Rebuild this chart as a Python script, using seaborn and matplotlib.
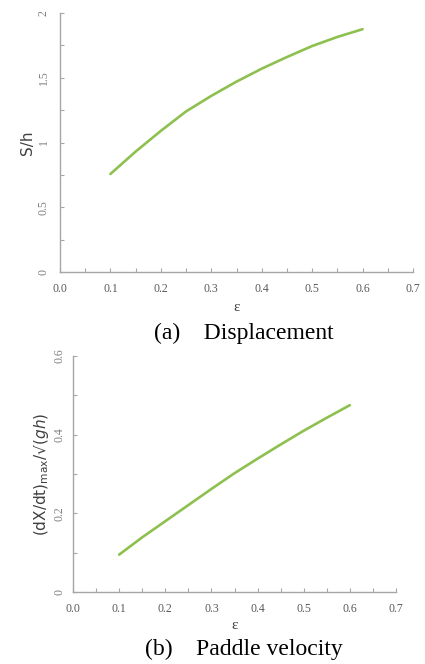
import numpy as np
import pandas as pd
import matplotlib
matplotlib.use("Agg")
import matplotlib.pyplot as plt
import seaborn as sns
from matplotlib.ticker import MultipleLocator

sns.set_theme(style="white")
plt.rcParams['font.family'] = ['DejaVu Sans']

eps = [0.10, 0.15, 0.20, 0.25, 0.30, 0.35, 0.40, 0.45, 0.50, 0.55, 0.60]
disp = [0.757, 0.93, 1.09, 1.24, 1.36, 1.47, 1.57, 1.66, 1.745, 1.815, 1.875]
vel = [0.095, 0.139, 0.180, 0.221, 0.262, 0.302, 0.339, 0.375, 0.410, 0.443, 0.475]
xticks = [0.0, 0.1, 0.2, 0.3, 0.4, 0.5, 0.6, 0.7]
xticklabels = ["0.0", "0.1", "0.2", "0.3", "0.4", "0.5", "0.6", "0.7"]
yticks_a = [0, 0.5, 1, 1.5, 2]
yticklabels_a = ["0", "0.5", "1", "1.5", "2"]
yticks_b = [0, 0.2, 0.4, 0.6]
yticklabels_b = ["0", "0.2", "0.4", "0.6"]

df = pd.DataFrame({"eps": eps, "disp": disp, "vel": vel})

W, H = 425, 664
fig = plt.figure(figsize=(W / 100, H / 100), dpi=100)

def axes_px(left, top, right, bottom):
    return fig.add_axes([left / W, 1 - bottom / H, (right - left) / W, (bottom - top) / H])

ax1 = axes_px(60, 13, 413, 272)
ax2 = axes_px(73, 356, 396, 592)

green = "#8dc04f"
axis_col = "#a6a6a6"
tick_col = "#595959"
serif = ["Liberation Serif", "DejaVu Serif"]

def style(ax, yt, ytl, ymax, yminor, ypad):
    ax.set_xlim(0, 0.7)
    ax.set_ylim(0, ymax)
    ax.set_xticks(xticks)
    ax.set_xticklabels(xticklabels, family=serif, fontsize=8.5, color=tick_col)
    ax.set_yticks(yt)
    ax.set_yticklabels(ytl, family=serif, fontsize=8.5, color="#7f7f7f", rotation=90, va="center")
    ax.xaxis.set_minor_locator(MultipleLocator(0.05))
    ax.yaxis.set_minor_locator(MultipleLocator(yminor))
    for s in ["top", "right"]:
        ax.spines[s].set_visible(False)
    for s in ["left", "bottom"]:
        ax.spines[s].set_color(axis_col)
        ax.spines[s].set_linewidth(1.0)
    ax.tick_params(which="both", direction="in", color=axis_col, length=3, width=0.8,
                   left=True, bottom=True)
    ax.tick_params(axis="x", which="both", pad=8)
    ax.tick_params(axis="y", which="both", pad=ypad)
    ax.set_facecolor("white")

sns.lineplot(data=df, x="eps", y="disp", ax=ax1, color=green, linewidth=1.9)
sns.lineplot(data=df, x="eps", y="vel", ax=ax2, color=green, linewidth=1.9)

style(ax1, yticks_a, yticklabels_a, 2, 0.25, 7.5)
style(ax2, yticks_b, yticklabels_b, 0.6, 0.1, 5.5)

ax1.set_xlabel("ε", family=serif, fontsize=11, color="#404040", labelpad=4)
ax1.set_ylabel("S/h", fontsize=11, color="#404040", labelpad=2)
ax2.set_xlabel("ε", family=serif, fontsize=11, color="#404040", labelpad=3)
ax2.set_ylabel(r"(dX/dt)$_{\mathrm{max}}$/√($gh$)", fontsize=11, color="#404040", labelpad=2)

fig.text(244 / W, 1 - 333 / H, "(a)    Displacement", family=serif, fontsize=17,
         ha="center", va="center", color="black")
fig.text(244 / W, 1 - 649 / H, "(b)    Paddle velocity", family=serif, fontsize=17,
         ha="center", va="center", color="black")

fig.savefig("out.png", dpi=100, facecolor="white")
